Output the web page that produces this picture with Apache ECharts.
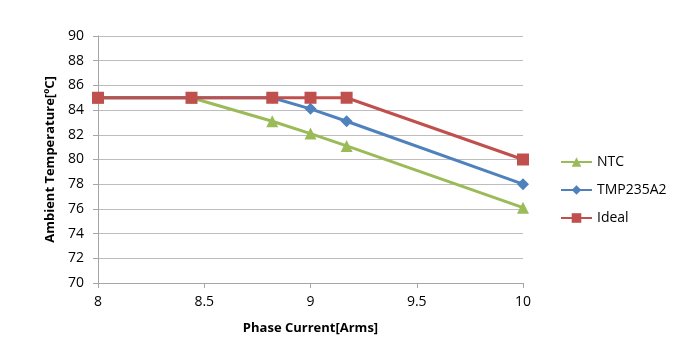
<!DOCTYPE html>
<html>
<head>
<meta charset="utf-8">
<script src="https://cdn.jsdelivr.net/npm/echarts@6/dist/echarts.min.js"></script>
<style>
html, body { margin: 0; padding: 0; background: #fff; }
#chart { width: 684px; height: 351px; }
</style>
</head>
<body>
<div id="chart"></div>
<script>
// values
const ntcX = [8, 8.44, 8.82, 9, 9.17, 10];
const ntcY = [85, 85, 83.1, 82.1, 81.1, 76.1];
const tmpX = [8, 8.44, 8.82, 9, 9.17, 10];
const tmpY = [85, 85, 85, 84.1, 83.1, 78];
const idealX = [8, 8.44, 8.82, 9, 9.17, 10];
const idealY = [85, 85, 85, 85, 85, 80];

const pairs = (xs, ys) => xs.map((x, i) => [x, ys[i]]);

const font = '"Open Sans", "Liberation Sans", sans-serif';
const chart = echarts.init(document.getElementById('chart'));

chart.setOption({
  animation: false,
  textStyle: { fontFamily: font },
  grid: { left: 98, right: 161, top: 36, bottom: 68 },
  legend: {
    orient: 'vertical',
    left: 555,
    top: 150,
    itemGap: 14,
    itemWidth: 31,
    itemHeight: 12,
    textStyle: { fontSize: 14, color: '#000', fontFamily: font },
    data: ['NTC', 'TMP235A2', 'Ideal']
  },
  xAxis: {
    type: 'value',
    min: 8, max: 10, interval: 0.5,
    name: 'Phase Current[Arms]',
    nameLocation: 'middle',
    nameGap: 39,
    nameTextStyle: { fontSize: 13, fontWeight: 'bold', color: '#000' },
    axisLine: { lineStyle: { color: '#a6a6a6' } },
    axisTick: { show: true, length: 5, lineStyle: { color: '#a6a6a6' } },
    axisLabel: { fontSize: 14, color: '#000', margin: 12 },
    splitLine: { show: false }
  },
  yAxis: {
    type: 'value',
    min: 70, max: 90, interval: 2,
    name: 'Ambient Temperature[ºC]',
    nameLocation: 'middle',
    nameGap: 36,
    nameTextStyle: { fontSize: 13, fontWeight: 'bold', color: '#000' },
    axisLine: { show: true, lineStyle: { color: '#a6a6a6' } },
    axisTick: { show: true, length: 5, lineStyle: { color: '#a6a6a6' } },
    axisLabel: { fontSize: 14, color: '#000', margin: 14 },
    splitLine: { lineStyle: { color: '#bdbdbd' } }
  },
  series: [
    {
      name: 'NTC', type: 'line',
      data: pairs(ntcX, ntcY),
      symbol: 'triangle', symbolSize: 12,
      lineStyle: { width: 3, color: '#9BBB59' },
      itemStyle: { color: '#9BBB59' }
    },
    {
      name: 'TMP235A2', type: 'line',
      data: pairs(tmpX, tmpY),
      symbol: 'diamond', symbolSize: 12,
      lineStyle: { width: 3, color: '#4F81BD' },
      itemStyle: { color: '#4F81BD' }
    },
    {
      name: 'Ideal', type: 'line',
      data: pairs(idealX, idealY),
      symbol: 'rect', symbolSize: 12,
      lineStyle: { width: 3, color: '#C0504D' },
      itemStyle: { color: '#C0504D' }
    }
  ]
});
</script>
</body>
</html>
